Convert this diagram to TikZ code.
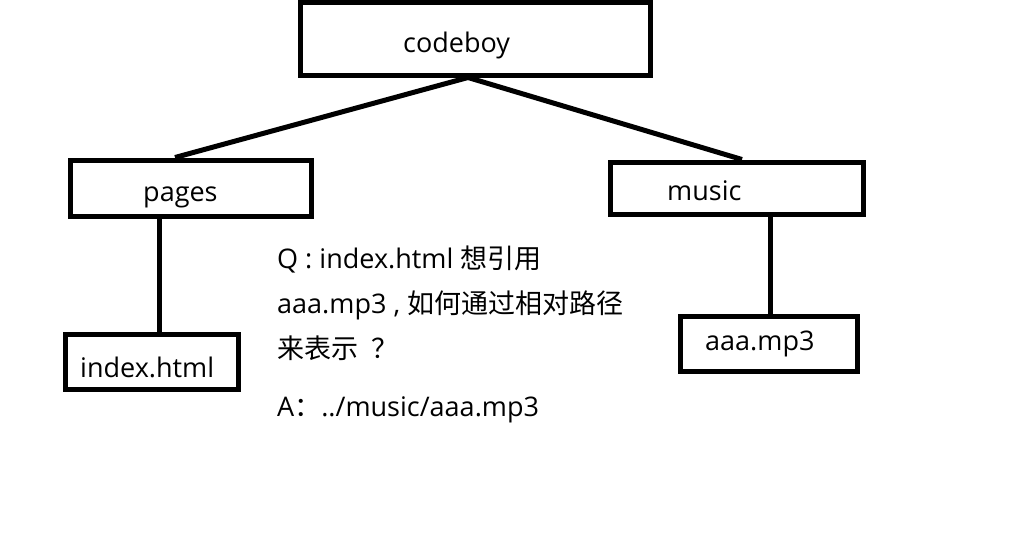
\documentclass[tikz,border=0pt]{standalone}
\usepackage{fontspec}
\setmainfont{Open Sans}
\newfontfamily\cjk{Noto Sans CJK SC}
\begin{document}
\begin{tikzpicture}[x=1pt,y=-1pt,
  box/.style={draw, line width=5pt, inner sep=0pt, rectangle},
  lbl/.style={inner sep=0pt, anchor=base west, font=\fontsize{27}{31}\selectfont},
  conn/.style={line width=5pt}]
\useasboundingbox[fill=white] (0,0) rectangle (1018,557);
% boxes
\node[box, minimum width=350pt, minimum height=73pt] (codeboy) at (475.5,38.5) {};
\node[box, minimum width=241pt, minimum height=56pt] (pages) at (191,188) {};
\node[box, minimum width=253pt, minimum height=52.5pt] (music) at (736.5,188.25) {};
\node[box, minimum width=172.5pt, minimum height=55pt] (index) at (151.75,362) {};
\node[box, minimum width=177pt, minimum height=55pt] (aaa) at (768.5,343.5) {};
% labels
\node[lbl] (tcodeboy) at (403,52) {codeboy};
\node[lbl] (tpages) at (143,201) {pages};
\node[lbl] (tmusic) at (667,200) {music};
\node[lbl] (tindex) at (80,377) {index.html};
\node[lbl] (taaa) at (705,350) {aaa.mp3};
% question text
\node[lbl] (q1) at (277,268) {Q : index.html {\cjk 想引用}};
\node[lbl] (q2) at (277,313) {aaa.mp3 , {\cjk 如何通过相对路径}};
\node[lbl] (q3) at (277,358) {{\cjk 来表示}\hspace{6pt} {\cjk ？}};
\node[lbl] (a1) at (277,416) {A{\cjk ：}../music/aaa.mp3};
% connectors
\coordinate (pi) at (159.5,0);
\coordinate (mu) at (770.5,0);
\draw[conn] ([xshift=-7.5pt]codeboy.south) -- ([xshift=-16pt]pages.north);
\draw[conn] ([xshift=-7.5pt]codeboy.south) -- ([xshift=5.5pt]music.north);
\draw[conn] (pages.south -| pi) -- (index.north -| pi);
\draw[conn] (music.south -| mu) -- (aaa.north -| mu);
\end{tikzpicture}
\end{document}
